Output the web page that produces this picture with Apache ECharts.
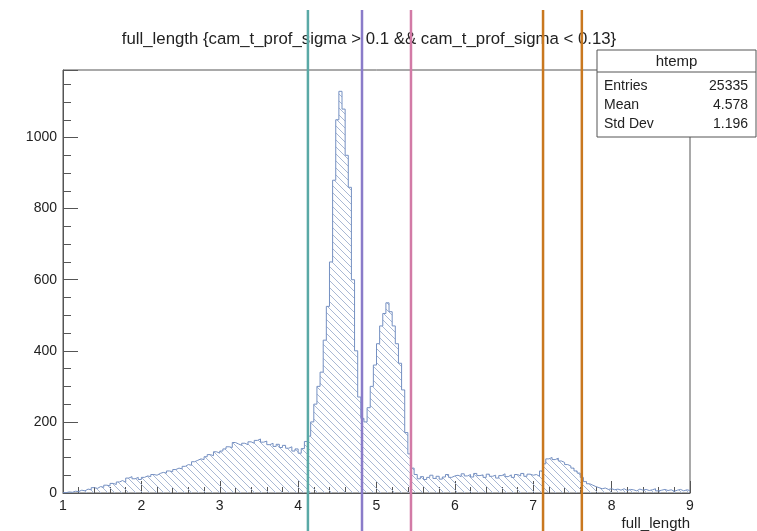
<!DOCTYPE html>
<html lang="en">
<head>
    <meta charset="UTF-8">
    <title>full_length</title>
    <style>
        html, body { margin: 0; padding: 0; background: #fff; }
        #chart { width: 757px; height: 531px; }
    </style>
</head>
<body>
<div id="chart"></div>
<script src="https://cdn.jsdelivr.net/npm/echarts@6/dist/echarts.min.js"></script>
<script>
    // histogram, 200 bins of 0.04 from 1 to 9 (one array per unit of x)
    var binStart = 1;
    var binWidth = 0.04;
    var counts1to2 = [1, 3, 2, 5, 4, 8, 6, 11, 9, 15, 13, 18, 16, 22, 20, 27, 24, 31, 35, 30, 42, 46, 40, 44, 38];
    var counts2to3 = [44, 48, 46, 52, 50, 55, 58, 56, 62, 60, 66, 70, 68, 75, 80, 78, 88, 92, 96, 94, 102, 108, 105, 116, 112];
    var counts3to4 = [118, 124, 130, 128, 142, 138, 134, 140, 136, 144, 140, 148, 152, 143, 146, 136, 140, 131, 137, 128, 134, 126, 130, 118, 124];
    var counts4to5 = [112, 125, 145, 160, 200, 250, 300, 340, 430, 525, 650, 880, 1050, 1130, 1080, 950, 860, 600, 400, 270, 210, 200, 240, 300, 360];
    var counts5to6 = [420, 470, 505, 535, 510, 470, 420, 365, 290, 170, 110, 70, 52, 40, 46, 38, 44, 50, 41, 47, 39, 45, 52, 44, 48];
    var counts6to7 = [50, 46, 54, 48, 52, 45, 55, 49, 51, 44, 53, 47, 50, 42, 49, 54, 46, 51, 44, 52, 48, 55, 47, 53, 50];
    var counts7to8 = [52, 47, 62, 82, 96, 100, 94, 98, 90, 86, 80, 76, 70, 62, 56, 44, 32, 26, 22, 18, 15, 12, 14, 10, 12];
    var counts8to9 = [9, 11, 8, 12, 7, 10, 9, 6, 11, 8, 10, 7, 9, 12, 6, 8, 10, 7, 9, 5, 8, 10, 6, 9, 7];

    // vertical cut lines
    var cutValues = [4.125, 4.815, 5.44, 7.125, 7.62];
    var cutColors = ['#5aa9a6', '#8a7cc9', '#d27aa6', '#c9781f', '#c9781f'];

    var histName = 'htemp';
    var statLabels = ['Entries', 'Mean', 'Std Dev'];
    var statValues = ['25335', '4.578', '1.196'];

    var titleText = 'full_length {cam_t_prof_sigma > 0.1 && cam_t_prof_sigma < 0.13}';
    var font = 'Liberation Sans, Arial, sans-serif';

    var allCounts = [].concat(counts1to2, counts2to3, counts3to4, counts4to5,
        counts5to6, counts6to7, counts7to8, counts8to9);
    var histData = [];
    for (var i = 0; i < allCounts.length; i++) {
        histData.push([binStart + i * binWidth, allCounts[i]]);
    }
    // close the last bin
    histData.push([binStart + allCounts.length * binWidth, allCounts[allCounts.length - 1]]);

    // hatch fill like ROOT's 3004 style
    var hatch = document.createElement('canvas');
    hatch.width = 7;
    hatch.height = 7;
    var hc = hatch.getContext('2d');
    hc.strokeStyle = '#a9b8d4';
    hc.lineWidth = 1;
    hc.beginPath();
    hc.moveTo(-1, -1); hc.lineTo(8, 8);
    hc.moveTo(-1, 6); hc.lineTo(1, 8);
    hc.moveTo(6, -1); hc.lineTo(8, 1);
    hc.stroke();

    var myChart = echarts.init(document.getElementById('chart'));
    var option = {
        animation: false,
        grid: {
            left: 63, right: 67, top: 70, bottom: 32,
            show: true, borderColor: '#555', borderWidth: 1
        },
        xAxis: {
            type: 'value',
            min: 1, max: 9, interval: 1,
            name: 'full_length',
            nameLocation: 'end',
            nameGap: 0,
            nameTextStyle: { align: 'right', verticalAlign: 'top', padding: [23, 0, 0, 0], fontSize: 15, color: '#222', fontFamily: font },
            axisLine: { lineStyle: { color: '#555', width: 1 } },
            axisTick: { inside: true, length: 12, lineStyle: { color: '#555' } },
            minorTick: { show: true, splitNumber: 5, length: 6, lineStyle: { color: '#555' } },
            axisLabel: { margin: 6, fontSize: 14, color: '#222', fontFamily: font },
            splitLine: { show: false }
        },
        yAxis: {
            type: 'value',
            min: 0, max: 1190, interval: 200,
            axisLine: { show: true, lineStyle: { color: '#555', width: 1 } },
            axisTick: { inside: true, length: 15, lineStyle: { color: '#555' } },
            minorTick: { show: true, splitNumber: 4, length: 8, lineStyle: { color: '#555' } },
            axisLabel: {
                margin: 6, fontSize: 14, color: '#222', fontFamily: font, showMaxLabel: false,
                formatter: function (v) { return String(v); }
            },
            splitLine: { show: false }
        },
        series: [{
            type: 'line',
            step: 'end',
            symbol: 'none',
            data: histData,
            lineStyle: { color: '#7590c2', width: 1 },
            areaStyle: { color: { image: hatch, repeat: 'repeat' }, opacity: 1 }
        }]
    };
    myChart.setOption(option);

    // lines, title and stats box go on top
    var elements = [];
    for (var k = 0; k < cutValues.length; k++) {
        var px = myChart.convertToPixel({ xAxisIndex: 0 }, cutValues[k]);
        elements.push({
            type: 'line', z: 100,
            shape: { x1: px, y1: 10, x2: px, y2: 531 },
            style: { stroke: cutColors[k], lineWidth: 2.5 }
        });
    }
    elements.push({
        type: 'text', z: 90, x: 369, y: 39,
        style: { text: titleText, font: '16.8px ' + font, fill: '#222', textAlign: 'center', textVerticalAlign: 'middle' }
    });
    // stats box
    var bx = 597, by = 50, bw = 159, bh = 87;
    elements.push({
        type: 'rect', z: 110,
        shape: { x: bx, y: by, width: bw, height: bh },
        style: { fill: '#fff', stroke: '#555', lineWidth: 1 }
    });
    elements.push({
        type: 'line', z: 111,
        shape: { x1: bx, y1: by + 22, x2: bx + bw, y2: by + 22 },
        style: { stroke: '#555', lineWidth: 1 }
    });
    elements.push({
        type: 'text', z: 112, x: bx + bw / 2, y: by + 12,
        style: { text: histName, font: '15px ' + font, fill: '#222', textAlign: 'center', textVerticalAlign: 'middle' }
    });
    for (var s = 0; s < statLabels.length; s++) {
        var ty = by + 36 + s * 19;
        elements.push({
            type: 'text', z: 112, x: bx + 7, y: ty,
            style: { text: statLabels[s], font: '14px ' + font, fill: '#222', textAlign: 'left', textVerticalAlign: 'middle' }
        });
        elements.push({
            type: 'text', z: 112, x: bx + bw - 8, y: ty,
            style: { text: statValues[s], font: '14px ' + font, fill: '#222', textAlign: 'right', textVerticalAlign: 'middle' }
        });
    }
    myChart.setOption({ graphic: { elements: elements } });
</script>
</body>
</html>
